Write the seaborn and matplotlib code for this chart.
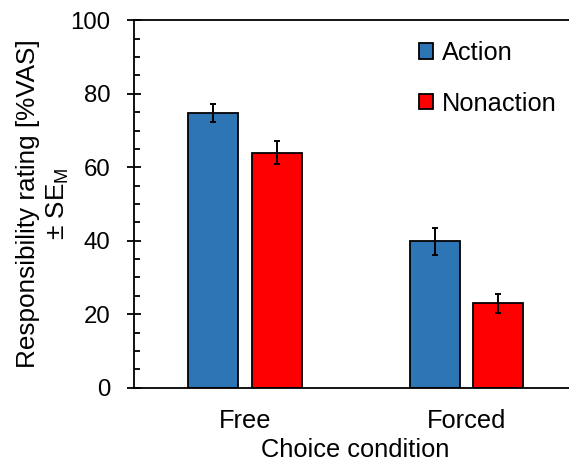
import matplotlib
matplotlib.use("Agg")
import matplotlib.pyplot as plt
import seaborn as sns
import pandas as pd
from matplotlib.patches import Patch
from matplotlib.ticker import MultipleLocator

conditions = ["Free", "Forced"]
types = ["Action", "Nonaction"]
action_means = [74.9, 39.9]
nonaction_means = [64.0, 23.0]
action_se = [2.45, 3.7]
nonaction_se = [3.2, 2.55]
colors = {"Action": "#2E75B6", "Nonaction": "#FF0000"}

df = pd.DataFrame({
    "condition": conditions * 2,
    "type": ["Action"] * 2 + ["Nonaction"] * 2,
    "value": action_means + nonaction_means,
    "se": action_se + nonaction_se,
})

sns.set_style("white")
plt.rcParams["font.family"] = ["Liberation Sans", "DejaVu Sans"]
plt.rcParams["mathtext.fontset"] = "custom"
plt.rcParams["mathtext.rm"] = "Liberation Sans"
plt.rcParams["mathtext.it"] = "Liberation Sans"
plt.rcParams["text.color"] = "black"
plt.rcParams["axes.labelcolor"] = "black"
plt.rcParams["xtick.color"] = "black"
plt.rcParams["ytick.color"] = "black"
FS_YTICK = 17.3
FS_XTICK = 18.3
FS_LAB = 18.3
FS_YLAB = 18.8

fig = plt.figure(figsize=(5.69, 4.67), dpi=100)
ax = fig.add_axes([0.236, 0.1698, 0.778, 0.7867])

sns.barplot(data=df, x="condition", y="value", hue="type", order=conditions,
            hue_order=types, palette=colors, width=0.573, gap=0.21,
            errorbar=None, edgecolor="black", linewidth=1.3, saturation=1,
            ax=ax, legend=False)

for container, t in zip(ax.containers, types):
    sub = df[df["type"] == t].set_index("condition").loc[conditions]
    for bar, m, s in zip(container, sub["value"], sub["se"]):
        xc = bar.get_x() + bar.get_width() / 2
        ax.errorbar(xc, m, yerr=s, color="black", lw=1.4, capsize=2.0,
                    capthick=1.4, zorder=5)

ax.set_xlim(-0.5, 1.5)
ax.set_ylim(0, 100)
ax.yaxis.set_major_locator(MultipleLocator(20))
ax.yaxis.set_minor_locator(MultipleLocator(5))
ax.tick_params(axis="y", which="major", direction="inout", length=10,
               width=1.3, color="black", labelsize=FS_YTICK, pad=12, left=True)
ax.tick_params(axis="y", which="minor", direction="in", length=4.5,
               width=1.3, color="black", left=True)
ax.tick_params(axis="x", length=0, labelsize=FS_XTICK, pad=15)

for side in ["left", "bottom", "top"]:
    ax.spines[side].set_visible(True)
    ax.spines[side].set_color("black")
    ax.spines[side].set_linewidth(1.3)
ax.spines["right"].set_visible(False)

ax.set_xlabel("Choice condition", fontsize=FS_LAB, labelpad=4)
ax.set_ylabel("Responsibility rating [%VAS]\n± SE$_\\mathrm{M}$", fontsize=FS_YLAB,
              labelpad=0, linespacing=1.2)

handles = [Patch(facecolor=colors[t], edgecolor="black", linewidth=1.3) for t in types]
ax.legend(handles, types, loc="upper left", bbox_to_anchor=(0.737, 0.912),
          bbox_transform=fig.transFigure, frameon=False, fontsize=FS_LAB,
          handlelength=0.55, handleheight=0.55, handletextpad=0.35,
          labelspacing=1.05, borderaxespad=0, borderpad=0)

fig.savefig("out.png", dpi=100)
